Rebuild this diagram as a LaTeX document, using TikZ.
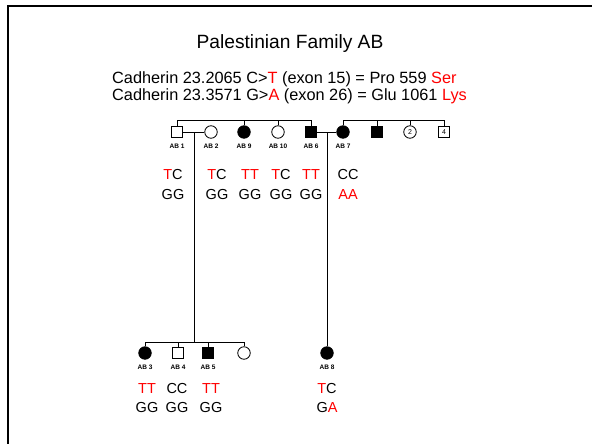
\documentclass[tikz,border=0pt]{standalone}
\usepackage{fontspec}
\setmainfont{Liberation Sans}
\begin{document}
\begin{tikzpicture}[x=1pt,y=-1pt,
  sq/.style={draw, rectangle, minimum size=11.5pt, inner sep=0pt, line width=0.8pt},
  ci/.style={draw, circle, minimum size=12.5pt, inner sep=0pt, line width=0.8pt},
  aff/.style={fill=black},
  lab/.style={font=\fontsize{6.5}{7}\selectfont\bfseries, inner sep=0pt},
  geno/.style={font=\fontsize{14.5}{16}\selectfont, inner sep=0pt},
  ln/.style={line width=0.8pt},
  head/.style={font=\fontsize{16.3}{18}\selectfont, inner sep=0pt, anchor=west}]
\useasboundingbox (0,0) rectangle (592,444);
\draw[line width=2pt] (7.5,444) -- (7.5,6) -- (592,6);
% title
\node[font=\fontsize{19.2}{22}\selectfont, inner sep=0pt] (title) at (290,44) {Palestinian Family AB};
\node[head] (l1) at (112,79) {Cadherin 23.2065 C>\textcolor{red}{T} (exon 15) = Pro 559 \textcolor{red}{Ser}};
\node[head] (l2) at (112,96) {Cadherin 23.3571 G>\textcolor{red}{A} (exon 26) = Glu 1061 \textcolor{red}{Lys}};
% generation II
\node[sq] (AB1) at (177,132) {};
\node[ci] (AB2) at (211,132) {};
\node[ci,aff] (AB9) at (244,132) {};
\node[ci] (AB10) at (278,132) {};
\node[sq,aff] (AB6) at (311,132) {};
\node[ci,aff] (AB7) at (343,132) {};
\node[sq,aff] (S7) at (377,132) {};
\node[ci,font=\fontsize{7}{8}\selectfont] (C2) at (410,132) {2};
\node[sq,font=\fontsize{7}{8}\selectfont] (S4) at (444,132) {4};
% sibship lines
\coordinate (t1) at (177,120);
\coordinate (t9) at (244,120);
\coordinate (t10) at (278,120);
\coordinate (t6) at (311,120);
\coordinate (t7) at (343,120);
\coordinate (ts7) at (377,120);
\coordinate (tc2) at (410,120);
\coordinate (ts4) at (444,120);
\draw[ln] (AB1.north) -- (t1) -- (t6) -- (AB6.north);
\draw[ln] (AB9.north) -- (t9);
\draw[ln] (AB10.north) -- (t10);
\draw[ln] (AB7.north) -- (t7) -- (ts4) -- (S4.north);
\draw[ln] (S7.north) -- (ts7);
\draw[ln] (C2.north) -- (tc2);
% marriages
\draw[ln] (AB1.east) -- (AB2.west);
\draw[ln] (AB6.east) -- (AB7.west);
\coordinate (m1) at (194,132);
\coordinate (m2) at (327,132);
% labels
\node[lab] (lAB1) at (177,146) {AB 1};
\node[lab] (lAB2) at (211,146) {AB 2};
\node[lab] (lAB9) at (244,146) {AB 9};
\node[lab] (lAB10) at (278,146) {AB 10};
\node[lab] (lAB6) at (311,146) {AB 6};
\node[lab] (lAB7) at (343,146) {AB 7};
% genotypes II
\node[geno] (g1a) at (173,175) {\textcolor{red}{T}C};
\node[geno] (g1b) at (173,195) {GG};
\node[geno] (g2a) at (217,175) {\textcolor{red}{T}C};
\node[geno] (g2b) at (217,195) {GG};
\node[geno] (g9a) at (250,175) {\textcolor{red}{TT}};
\node[geno] (g9b) at (250,195) {GG};
\node[geno] (g10a) at (281,175) {\textcolor{red}{T}C};
\node[geno] (g10b) at (281,195) {GG};
\node[geno] (g6a) at (311,175) {\textcolor{red}{TT}};
\node[geno] (g6b) at (311,195) {GG};
\node[geno] (g7a) at (348,175) {CC};
\node[geno] (g7b) at (348,195) {\textcolor{red}{AA}};
% generation III
\node[ci,aff] (AB3) at (145,353) {};
\node[sq] (AB4) at (178,353) {};
\node[sq,aff] (AB5) at (208,353) {};
\node[ci] (C3) at (244,353) {};
\node[ci,aff] (AB8) at (327,353) {};
\coordinate (b3) at (145,342);
\coordinate (b4) at (178,342);
\coordinate (b5) at (208,342);
\coordinate (bm) at (194,342);
\coordinate (bc) at (244,342);
\draw[ln] (m1) -- (bm);
\draw[ln] (AB3.north) -- (b3) -- (bc) -- (C3.north);
\draw[ln] (AB4.north) -- (b4);
\draw[ln] (AB5.north) -- (b5);
\draw[ln] (m2) -- (AB8.north);
\node[lab] (lAB3) at (145,367) {AB 3};
\node[lab] (lAB4) at (178,367) {AB 4};
\node[lab] (lAB5) at (208,367) {AB 5};
\node[lab] (lAB8) at (327,367) {AB 8};
\node[geno] (g3a) at (147,389) {\textcolor{red}{TT}};
\node[geno] (g3b) at (147,408) {GG};
\node[geno] (g4a) at (177,389) {CC};
\node[geno] (g4b) at (177,408) {GG};
\node[geno] (g5a) at (211,389) {\textcolor{red}{TT}};
\node[geno] (g5b) at (211,408) {GG};
\node[geno] (g8a) at (327,389) {\textcolor{red}{T}C};
\node[geno] (g8b) at (327,408) {G\textcolor{red}{A}};
\end{tikzpicture}
\end{document}
